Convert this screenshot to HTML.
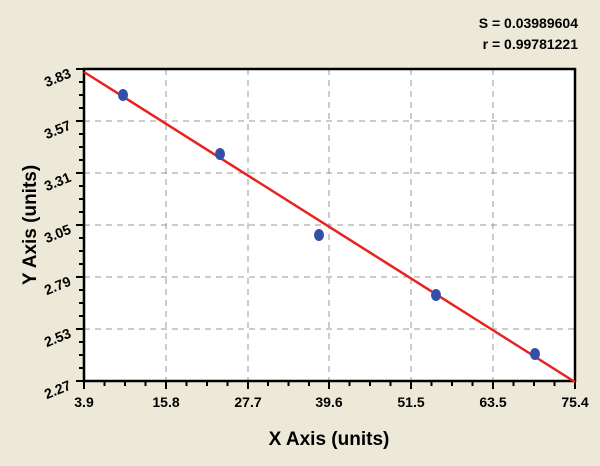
<!DOCTYPE html>
<html><head><style>
body{margin:0;width:600px;height:461px;overflow:hidden;background:#ece9d8;font-family:"Liberation Sans",Arial,sans-serif}
</style></head><body>
<svg width="600" height="461" xmlns="http://www.w3.org/2000/svg" font-family="Liberation Sans, Arial, sans-serif">
<rect width="600" height="461" fill="#ece9d8"/>
<rect x="84" y="69" width="491" height="312" fill="#fff"/>
<g stroke="#999" stroke-dasharray="6,5" stroke-width="1">
<line x1="84" x2="575" y1="121" y2="121"/><line x1="84" x2="575" y1="173" y2="173"/>
<line x1="84" x2="575" y1="225" y2="225"/><line x1="84" x2="575" y1="277" y2="277"/>
<line x1="84" x2="575" y1="329" y2="329"/>
<line x1="166" x2="166" y1="69" y2="381"/><line x1="248" x2="248" y1="69" y2="381"/>
<line x1="329" x2="329" y1="69" y2="381"/><line x1="411" x2="411" y1="69" y2="381"/>
<line x1="493" x2="493" y1="69" y2="381"/>
</g>
<rect x="84" y="69" width="491" height="312" fill="none" stroke="#000" stroke-width="2.5"/>
<g stroke="#000" stroke-width="2">
<path d="M84 69h-8M84 82h-5M84 95h-5M84 108h-5M84 121h-8M84 134h-5M84 147h-5M84 160h-5M84 173h-8M84 186h-5M84 199h-5M84 212h-5M84 225h-8M84 238h-5M84 251h-5M84 264h-5M84 277h-8M84 290h-5M84 303h-5M84 316h-5M84 329h-8M84 342h-5M84 355h-5M84 368h-5M84 381h-8"/>
<path d="M84 381v8M104.5 381v5M125 381v5M145.5 381v5M166 381v8M186.5 381v5M207 381v5M227.5 381v5M248 381v8M268 381v5M288.5 381v5M309 381v5M329 381v8M349.5 381v5M370 381v5M390.5 381v5M411 381v8M431.5 381v5M452 381v5M472.5 381v5M493 381v8M513.5 381v5M534 381v5M554.5 381v5M575 381v8"/>
</g>
<line x1="84" y1="72" x2="575" y2="382" stroke="#e8231f" stroke-width="2.5"/>
<g fill="#3350a8">
<ellipse cx="123" cy="95" rx="5" ry="6"/><ellipse cx="220" cy="154" rx="5" ry="6"/>
<ellipse cx="319" cy="235" rx="5" ry="6"/><ellipse cx="436" cy="295" rx="5" ry="6"/>
<ellipse cx="535" cy="354" rx="5" ry="6"/>
</g>
<g font-size="14" font-weight="bold" text-anchor="end">
<text transform="translate(72,77) rotate(-22)">3.83</text>
<text transform="translate(72,129) rotate(-22)">3.57</text>
<text transform="translate(72,181) rotate(-22)">3.31</text>
<text transform="translate(72,233) rotate(-22)">3.05</text>
<text transform="translate(72,285) rotate(-22)">2.79</text>
<text transform="translate(72,337) rotate(-22)">2.53</text>
<text transform="translate(72,389) rotate(-22)">2.27</text>
</g>
<g font-size="14" font-weight="bold" text-anchor="middle">
<text x="84" y="407">3.9</text><text x="166" y="407">15.8</text><text x="248" y="407">27.7</text>
<text x="329" y="407">39.6</text><text x="411" y="407">51.5</text><text x="493" y="407">63.5</text>
<text x="575" y="407">75.4</text>
</g>
<text x="329" y="445" font-size="19" font-weight="bold" text-anchor="middle">X Axis (units)</text>
<text transform="translate(36,225) rotate(-90)" font-size="19" font-weight="bold" text-anchor="middle">Y Axis (units)</text>
<g font-size="14" font-weight="bold" text-anchor="end">
<text x="578" y="28">S = 0.03989604</text>
<text x="578" y="49">r = 0.99781221</text>
</g>
</svg>
</body></html>
